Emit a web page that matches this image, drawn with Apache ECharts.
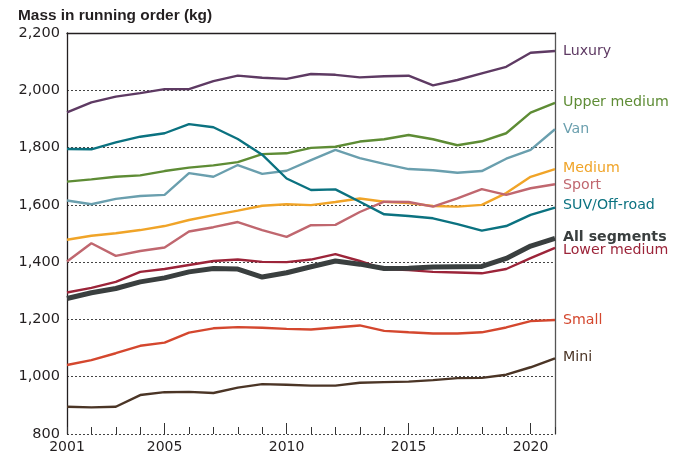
<!DOCTYPE html>
<html><head><meta charset="utf-8">
<script src="https://cdn.jsdelivr.net/npm/echarts@6/dist/echarts.min.js"></script>
<style>html,body{margin:0;padding:0;background:#fff}#c{width:682px;height:459px}</style>
</head><body><div id="c"></div>
<script>
const years = ['2001','2002','2003','2004','2005','2006','2007','2008','2009','2010','2011','2012','2013','2014','2015','2016','2017','2018','2019','2020','2021'];
const xTickLabels = ['2001','2005','2010','2015','2020'];
const luxury = [1923,1958,1978,1990,2004,2004,2032,2051,2044,2040,2057,2054,2045,2049,2051,2017,2036,2059,2082,2131,2137];
const upperMedium = [1681,1689,1698,1703,1718,1730,1738,1749,1777,1780,1799,1803,1821,1829,1844,1829,1808,1822,1850,1922,1956];
const van = [1615,1602,1621,1631,1635,1711,1698,1739,1708,1719,1756,1792,1763,1743,1725,1721,1712,1718,1761,1792,1864];
const medium = [1478,1492,1501,1512,1526,1547,1564,1580,1597,1602,1599,1610,1622,1611,1606,1596,1594,1600,1641,1698,1725];
const sport = [1402,1466,1422,1439,1451,1507,1522,1540,1512,1488,1529,1530,1575,1611,1610,1594,1623,1655,1635,1658,1672];
const suvOffRoad = [1795,1794,1818,1838,1850,1882,1871,1830,1775,1692,1652,1654,1611,1567,1561,1553,1533,1510,1526,1565,1590];
const lowerMedium = [1294,1310,1331,1366,1376,1390,1404,1409,1401,1400,1409,1428,1404,1376,1372,1366,1364,1361,1376,1414,1450];
const small = [1041,1058,1082,1108,1119,1154,1169,1173,1171,1167,1165,1172,1179,1160,1155,1151,1151,1155,1172,1194,1198];
const mini = [895,893,895,936,946,947,943,962,974,972,969,969,979,981,983,988,995,996,1007,1033,1064];
const allSegments = [1273,1293,1308,1331,1345,1366,1378,1376,1348,1363,1384,1404,1393,1378,1379,1383,1384,1385,1413,1456,1483];

const FONT = 'DejaVu Sans';
const chart = echarts.init(document.getElementById('c'), null, {renderer:'canvas'});

function mk(name, data, color, opts) {
  opts = opts || {};
  return {
    name: name, type: 'line', data: data, symbol: 'none', smooth: false,
    lineStyle: {color: color, width: opts.width || 2.4},
    itemStyle: {color: color},
    z: opts.z || 2,
    endLabel: {
      show: true, formatter: name, color: color, distance: 8,
      fontFamily: FONT, fontSize: 14.2, fontWeight: opts.bold ? 'bold' : 'normal',
      offset: opts.offset || [0, 0]
    }
  };
}

chart.setOption({
  animation: false,
  title: {
    text: 'Mass in running order (kg)', left: 13, top: 3,
    textStyle: {fontFamily: 'Liberation Sans', fontSize: 15.4, fontWeight: 'bold', color: '#231f20'}
  },
  grid: {left: 67, right: 127, top: 33, bottom: 25, containLabel: false},
  xAxis: [
    {
      type: 'category', data: years, boundaryGap: false,
      axisLine: {show: false},
      axisTick: {show: true, inside: true, length: 7, interval: 0, lineStyle: {color: '#333', width: 1}},
      axisLabel: {
        interval: 0, margin: 6, color: '#231f20', fontFamily: FONT, fontSize: 14,
        formatter: function (v) { return xTickLabels.indexOf(v) >= 0 ? v : ''; }
      },
      splitLine: {show: false}
    },
    {
      type: 'category', data: years, boundaryGap: false, position: 'bottom',
      axisLine: {show: false},
      axisTick: {show: true, inside: true, length: 11, lineStyle: {color: '#333', width: 1},
        interval: function (i, v) { return xTickLabels.indexOf(v) > 0; }},
      axisLabel: {show: false}, splitLine: {show: false}
    },
    {
      type: 'category', data: years, boundaryGap: false, position: 'top',
      axisLine: {show: true, lineStyle: {color: '#231f20', width: 1.3}},
      axisTick: {show: false}, axisLabel: {show: false}, splitLine: {show: false}
    }
  ],
  yAxis: [
    {
      type: 'value', min: 800, max: 2200, interval: 200,
      axisLine: {show: true, lineStyle: {color: '#231f20', width: 1.3}},
      axisTick: {show: false},
      axisLabel: {
        margin: 7, color: '#231f20', fontFamily: FONT, fontSize: 14.5,
        formatter: function (v) { return v.toLocaleString('en-US'); }
      },
      splitLine: {show: true, lineStyle: {color: '#444', width: 1, type: [2, 2]}}
    },
    {
      type: 'value', min: 800, max: 2200, interval: 200, position: 'right',
      axisLine: {show: true, lineStyle: {color: '#555', width: 1.3}},
      axisTick: {show: false}, axisLabel: {show: false}, splitLine: {show: false}
    }
  ],
  series: [
    mk('Luxury', luxury, '#5e3a63'),
    mk('Upper medium', upperMedium, '#5e8c35', {offset: [0, -1]}),
    mk('Van', van, '#6a9fae'),
    mk('Medium', medium, '#f0a428', {offset: [0, -1]}),
    mk('Sport', sport, '#c0676f', {offset: [0, 1]}),
    mk('SUV/Off-road', suvOffRoad, '#0b7280', {offset: [0, -2]}),
    mk('Lower medium', lowerMedium, '#9c2439', {offset: [0, 2]}),
    mk('Small', small, '#d4472e'),
    mk('Mini', mini, '#4b3526', {offset: [0, -1]}),
    mk('All segments', allSegments, '#3a3f3f', {width: 5, bold: true, z: 3, offset: [0, -1.5]})
  ]
});
</script></body></html>
